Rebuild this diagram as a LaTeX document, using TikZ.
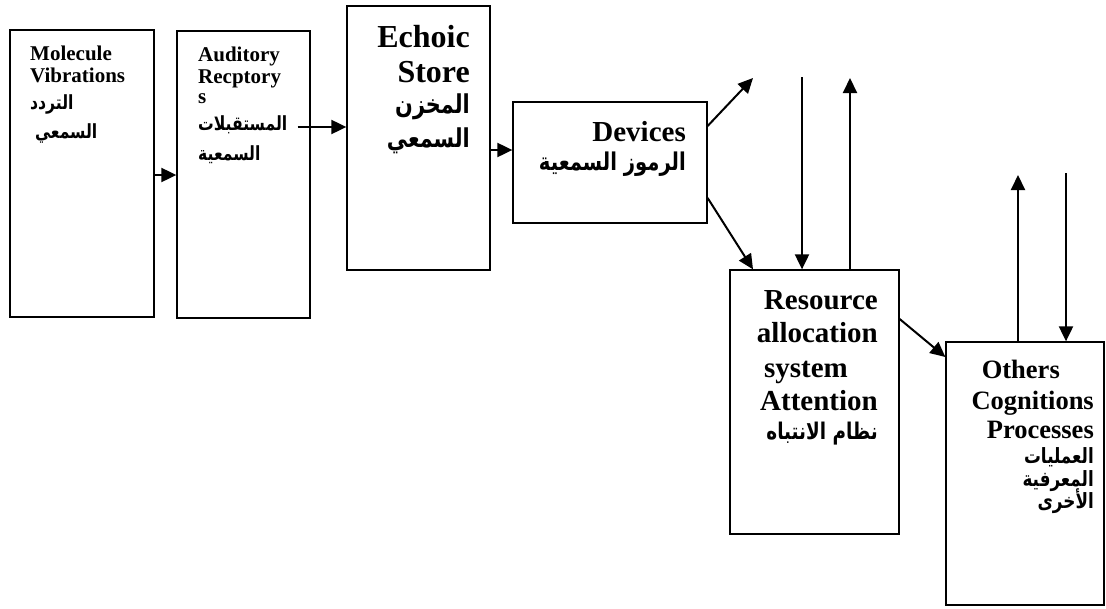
\documentclass[tikz,border=0pt]{standalone}
\usepackage{fontspec}
\setmainfont{Liberation Serif}
\newfontfamily\arabicfont[Script=Arabic,FakeStretch=0.8]{DejaVu Sans}
\TeXXeTstate=1
\usetikzlibrary{calc,arrows.meta}

\begin{document}
\begin{tikzpicture}[x=1pt,y=-1pt,
	box/.style={draw,line width=1.3pt,inner sep=0pt},
	arr/.style={-{Triangle[length=15pt,width=14pt]},line width=2pt},
	lat/.style={inner sep=0pt,font=\bfseries\fontsize{21}{24}\selectfont},
	latbig/.style={inner sep=0pt,font=\bfseries\fontsize{29}{33}\selectfont},
	ar/.style={inner sep=0pt,font=\arabicfont\bfseries\fontsize{#1}{#1}\selectfont},
	ar/.default=19.5]
	\useasboundingbox (0,0) rectangle (1106,608);
	
	%boxes
	\node[box,minimum width=144pt,minimum height=287pt] (mol)  at (82,173.5)   {};
	\node[box,minimum width=133pt,minimum height=287pt] (aud)  at (243.5,174.5) {};
	\node[box,minimum width=143pt,minimum height=264pt] (echo) at (418.5,138)   {};
	\node[box,minimum width=194pt,minimum height=121pt] (dev)  at (610,162.5)   {};
	\node[box,minimum width=169pt,minimum height=264pt] (res)  at (814.5,402)   {};
	\node[box,minimum width=158pt,minimum height=263pt] (oth)  at (1025,473.5)  {};
	
	%inner labels
	\node[lat,anchor=base west] (mol1) at (30,60)  {Molecule};
	\node[lat,anchor=base west] (mol2) at (30,82)  {Vibrations};
	\node[ar,anchor=base west]  (mol3) at (30,109) {\beginR التردد\endR};
	\node[ar,anchor=base west]  (mol4) at (35,138) {\beginR السمعي\endR};
	%
	\node[lat,anchor=base west] (aud1) at (198,61)  {Auditory};
	\node[lat,anchor=base west] (aud2) at (198,83)  {Recptory};
	\node[lat,anchor=base west] (aud3) at (198,103) {s};
	\node[ar,anchor=base west]  (aud4) at (198,130) {\beginR المستقبلات\endR};
	\node[ar,anchor=base west]  (aud5) at (198,160) {\beginR السمعية\endR};
	%
	\node[latbig,anchor=base east,font=\bfseries\fontsize{32}{35}\selectfont] (echo1) at (470,47) {Echoic};
	\node[latbig,anchor=base east,font=\bfseries\fontsize{32}{35}\selectfont] (echo2) at (470,82) {Store};
	\node[ar=26,anchor=base east] (echo3) at (470,113) {\beginR المخزن\endR};
	\node[ar=26,anchor=base east] (echo4) at (470,147) {\beginR السمعي\endR};
	%
	\node[latbig,anchor=base east] (dev1) at (686,141) {Devices};
	\node[ar=24.5,anchor=base east] (dev2) at (686,170) {\beginR الرموز السمعية\endR};
	%
	\node[latbig,anchor=base east] (res1) at (878,309) {Resource};
	\node[latbig,anchor=base east] (res2) at (878,342) {allocation};
	\node[latbig,anchor=base east] (res3) at (848,377) {system};
	\node[latbig,anchor=base east] (res4) at (878,410) {Attention};
	\node[ar=23,anchor=base east]  (res5) at (878,439) {\beginR نظام الانتباه\endR};
	%
	\node[latbig,anchor=base east,font=\bfseries\fontsize{26.5}{30}\selectfont] (oth1) at (1060,378) {Others};
	\node[latbig,anchor=base east,font=\bfseries\fontsize{26.5}{30}\selectfont] (oth2) at (1094,409) {Cognitions};
	\node[latbig,anchor=base east,font=\bfseries\fontsize{26.5}{30}\selectfont] (oth3) at (1094,438) {Processes};
	\node[ar=21,anchor=base east] (oth4) at (1094,463) {\beginR العمليات\endR};
	\node[ar=21,anchor=base east] (oth5) at (1094,486) {\beginR المعرفية\endR};
	\node[ar=21,anchor=base east] (oth6) at (1094,508) {\beginR الأخرى\endR};
	
	%free ends
	\coordinate (up1)   at (753,78);
	\coordinate (down1) at (802,77);
	\coordinate (up2)   at (850,78);
	\coordinate (up3)   at (1018,175);
	\coordinate (down2) at (1066,173);
	
	%arrows
	\draw[arr] (mol.east |- 0,175) -- (aud.west |- 0,175);
	\draw[arr] ($(aud.east |- 0,127)+(-13,0)$) -- (echo.west |- 0,127);
	\draw[arr] (echo.east |- 0,150) -- (dev.west |- 0,150);
	%
	\draw[arr] (dev.east |- 0,126) -- (up1);
	\draw[arr] (dev.east |- 0,198) -- (res.north -| up1);
	\draw[arr] (down1) -- (res.north -| down1);
	\draw[arr] (res.north -| up2) -- (up2);
	%
	\draw[arr] (res.east |- 0,319) -- (oth.west |- 0,357);
	\draw[arr] (oth.north -| up3) -- (up3);
	\draw[arr] (down2) -- (oth.north -| down2);
\end{tikzpicture}
\end{document}
